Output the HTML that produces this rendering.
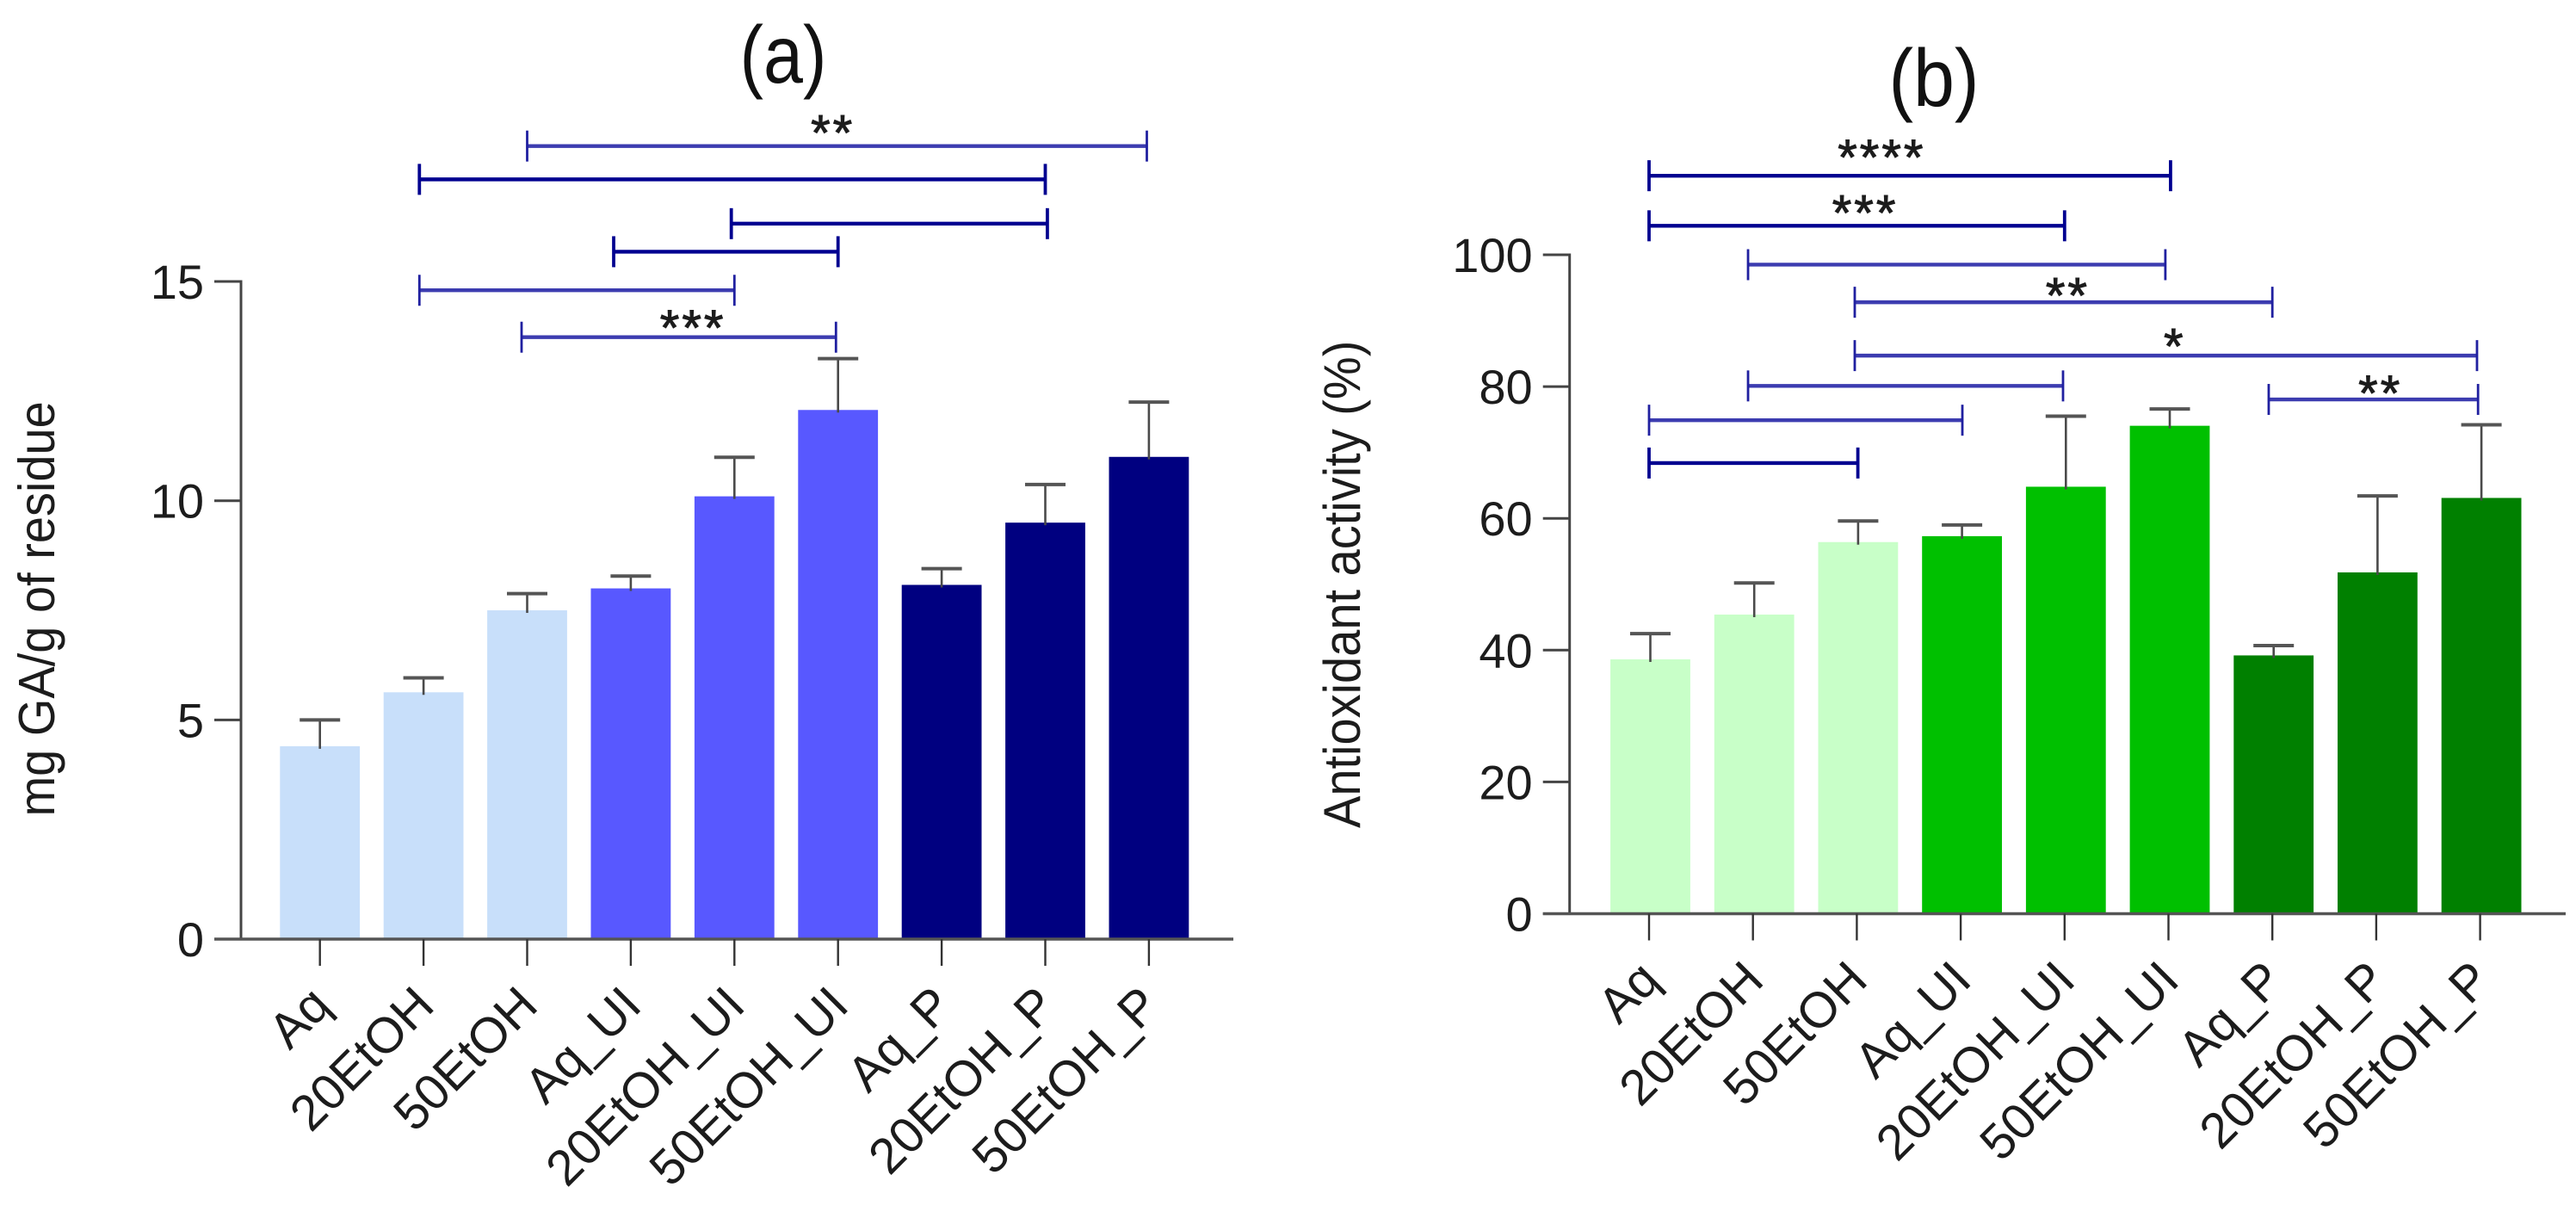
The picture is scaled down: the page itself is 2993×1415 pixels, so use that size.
<!DOCTYPE html>
<html lang="en">
<head>
<meta charset="utf-8">
<title>Total phenolic content and antioxidant activity bar charts</title>
<style>
html,body{margin:0;padding:0;background:#fff;}
body{width:2993px;height:1415px;overflow:hidden;}
svg{display:block;font-family:"Liberation Sans",Arial,sans-serif;}
text{fill:#1c1c1c;}
</style>
</head>
<body>
<svg id="figure" width="2993" height="1415" viewBox="0 0 2993 1415" xmlns="http://www.w3.org/2000/svg">
  <rect x="0" y="0" width="2993" height="1415" fill="#ffffff"/>
  <g id="panel-a">
    <text x="910" y="96" font-size="95" text-anchor="middle" textLength="101" lengthAdjust="spacingAndGlyphs" style="fill:#111">(a)</text>
    <text transform="translate(63 948.5) rotate(-90) scale(1 1.06)" font-size="56">mg GA/g of residue</text>
  </g>
  <g id="panel-b">
    <text x="2247" y="123" font-size="95" text-anchor="middle" textLength="105" lengthAdjust="spacingAndGlyphs" style="fill:#111">(b)</text>
    <text transform="translate(1580 962) rotate(-90) scale(1 1.07)" font-size="56">Antioxidant activity (%)</text>
  </g>
</svg>
<script>
/* ---------- shared categories ---------- */
const categories = ['Aq', '20EtOH', '50EtOH', 'Aq_UI', '20EtOH_UI', '50EtOH_UI', 'Aq_P', '20EtOH_P', '50EtOH_P'];

/* ---------- panel (a) data: mg GA/g of residue ---------- */
const meansA = [4.4, 5.63, 7.5, 8.0, 10.1, 12.07, 8.08, 9.5, 11.0];
const upperA = [5.0, 5.96, 7.88, 8.28, 10.99, 13.24, 8.45, 10.37, 12.25];
const tickLabelsA = [0, 5, 10, 15];
const bracketFromA = [2.0, 0.96, 3.97, 2.835, 0.96, 1.946];
const bracketToA = [7.98, 7.0, 7.02, 5.0, 4.0, 4.98];
const bracketLevelA = [18.09, 17.33, 16.32, 15.68, 14.8, 13.73];
const bracketMarksA = ['**', '', '', '', '', '***'];
const bracketMarkPosA = [4.95, 0, 0, 0, 0, 3.6];
const bracketMarkLevelA = [18.6, 0, 0, 0, 0, 14.16];

/* ---------- panel (b) data: antioxidant activity % ---------- */
const meansB = [38.6, 45.4, 56.4, 57.3, 64.8, 74.05, 39.2, 51.8, 63.1];
const upperB = [42.5, 50.2, 59.6, 59.0, 75.5, 76.6, 40.7, 63.4, 74.2];
const tickLabelsB = [0, 20, 40, 60, 80, 100];
const bracketFromB = [0, 0, 0.953, 1.98, 1.98, 0.953, 0, 0, 5.965];
const bracketToB = [5.02, 4.0, 4.97, 6.0, 7.97, 3.985, 3.016, 2.01, 7.98];
const bracketLevelB = [112.0, 104.4, 98.5, 92.8, 84.7, 80.1, 74.9, 68.4, 78.05];
const bracketMarksB = ['****', '***', '', '**', '*', '', '', '', '**'];
const bracketMarkPosB = [2.24, 2.08, 0, 4.03, 5.06, 0, 0, 0, 7.04];
const bracketMarkLevelB = [116.2, 107.8, 0, 95.2, 87.5, 0, 0, 0, 80.4];

const SVG_NS = 'http://www.w3.org/2000/svg';

function mk(parent, tag, attrs) {
  const el = document.createElementNS(SVG_NS, tag);
  for (const k in attrs) el.setAttribute(k, attrs[k]);
  parent.appendChild(el);
  return el;
}

function drawPanel(cfg) {
  const root = document.getElementById(cfg.rootId);
  const x = i => cfg.x0 + cfg.pitch * i;
  const y = v => cfg.y0 - cfg.unit * v;

  /* bars */
  cfg.means.forEach((m, i) => {
    const bar = mk(root, 'rect', {
      x: x(i) - 46.4 + cfg.barShift, y: y(m), width: 92.8, height: y(0) - y(m),
      fill: cfg.colors[Math.floor(i / 3)]
    });
    
    
  });

  /* error bars */
  cfg.upper.forEach((u, i) => {
    const cx = x(i) + cfg.barShift;
    const stem = mk(root, 'line', {
      x1: cx, x2: cx, y1: y(u), y2: y(cfg.means[i]) + 3,
      stroke: '#4a4a4a', 'stroke-width': 2.6
    });
    
    
    const cap = mk(root, 'line', {
      x1: cx - 23.5, x2: cx + 23.5, y1: y(u), y2: y(u),
      stroke: '#555555', 'stroke-width': 4
    });
    
    
  });

  /* y axis */
  const yAxis = mk(root, 'line', {
    x1: cfg.axisX, x2: cfg.axisX, y1: y(cfg.ticks[cfg.ticks.length - 1]) - 1.5, y2: y(0),
    stroke: '#444444', 'stroke-width': 3
  });
  
  

  cfg.ticks.forEach(t => {
    const tick = mk(root, 'line', {
      x1: cfg.axisX - 31, x2: cfg.axisX, y1: y(t), y2: y(t),
      stroke: '#444444', 'stroke-width': 3
    });
    
    
    const label = mk(root, 'text', {
      x: cfg.axisX - 43, y: y(t) + 20, 'font-size': 56, 'text-anchor': 'end'
    });
    label.textContent = String(t);
    
    
  });

  /* x axis */
  const xAxis = mk(root, 'line', {
    x1: cfg.axisX - 31, x2: cfg.axisEnd, y1: y(0), y2: y(0),
    stroke: '#555555', 'stroke-width': 3.4
  });
  
  

  categories.forEach((c, i) => {
    const tick = mk(root, 'line', {
      x1: x(i), x2: x(i), y1: y(0), y2: y(0) + 31,
      stroke: '#333333', 'stroke-width': 2.4
    });
    
    
    const label = mk(root, 'text', {
      transform: 'translate(' + (x(i) + 15) + ' ' + (y(0) + 80) + ') rotate(-45)',
      'font-size': 58, 'text-anchor': 'end'
    });
    label.textContent = c;
    
    
  });

  /* significance brackets */
  cfg.from.forEach((f, i) => {
    const heavy = cfg.heavy.includes(i);
    const color = heavy ? '#000090' : '#3c3cb0';
    const tickColor = heavy ? '#000090' : '#2020a0';
    const yb = y(cfg.level[i]);
    const line = mk(root, 'line', {
      x1: x(f), x2: x(cfg.to[i]), y1: yb, y2: yb, stroke: color, 'stroke-width': 4.4
    });
    
    
    [f, cfg.to[i]].forEach((p, e) => {
      const end = mk(root, 'line', {
        x1: x(p), x2: x(p), y1: yb - 18, y2: yb + 18, stroke: tickColor, 'stroke-width': heavy ? 3.8 : 2.8
      });
      
      
    });
    if (cfg.marks[i]) {
      const mark = mk(root, 'text', {
        x: x(cfg.markPos[i]), y: y(cfg.markLevel[i]) + 31, 'font-size': 58, 'text-anchor': 'middle',
        'letter-spacing': 3, stroke: '#1c1c1c', 'stroke-width': 1
      });
      mark.textContent = cfg.marks[i];
      
      
    }
  });
}

drawPanel({
  key: 'a', rootId: 'panel-a', x0: 371.7, pitch: 120.4, y0: 1091, unit: 50.93,
  barShift: 0, axisX: 280, axisEnd: 1433,
  colors: ['#c8dffa', '#5858ff', '#000080'],
  means: meansA, upper: upperA, ticks: tickLabelsA,
  from: bracketFromA, to: bracketToA, level: bracketLevelA,
  marks: bracketMarksA, markPos: bracketMarkPosA, markLevel: bracketMarkLevelA,
  heavy: [1, 2, 3]
});

drawPanel({
  key: 'b', rootId: 'panel-b', x0: 1916, pitch: 120.7, y0: 1061.5, unit: 7.655,
  barShift: 1.5, axisX: 1823.7, axisEnd: 2981,
  colors: ['#c8ffc8', '#00c000', '#008000'],
  means: meansB, upper: upperB, ticks: tickLabelsB,
  from: bracketFromB, to: bracketToB, level: bracketLevelB,
  marks: bracketMarksB, markPos: bracketMarkPosB, markLevel: bracketMarkLevelB,
  heavy: [0, 1, 7]
});
</script>
</body>
</html>
